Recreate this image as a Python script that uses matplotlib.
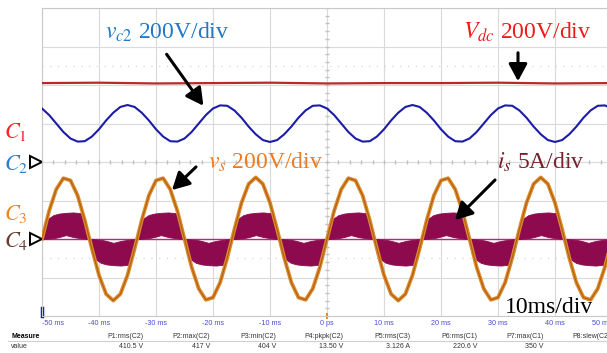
import matplotlib.pyplot as plt
from matplotlib.patches import FancyArrowPatch

W, H = 607, 353
plt.rcParams['mathtext.fontset'] = 'stix'

# time axis of the scope (ms)
time_ticks = [-50, -40, -30, -20, -10, 0, 10, 20, 30, 40, 50]
time_labels = ['-50 ms', '-40 ms', '-30 ms', '-20 ms', '-10 ms', '0 ps',
               '10 ms', '20 ms', '30 ms', '40 ms', '50 ms']

# traces every 1.25 ms, in screen divisions
t = [-50 + 1.25 * k for k in range(81)]

vs_div = [-2.00, -1.27, -0.71, -0.42, -0.48, -0.87, -1.51, -2.25, -2.94, -3.43,
          -3.60, -3.43, -2.94, -2.25, -1.51, -0.87, -0.48, -0.42, -0.71, -1.27,
          -2.00, -2.73, -3.29, -3.58, -3.52, -3.13, -2.49, -1.75, -1.06, -0.57,
          -0.40, -0.57, -1.06, -1.75, -2.49, -3.13, -3.52, -3.58, -3.29, -2.73,
          -2.00, -1.27, -0.71, -0.42, -0.48, -0.87, -1.51, -2.25, -2.94, -3.43,
          -3.60, -3.43, -2.94, -2.25, -1.51, -0.87, -0.48, -0.42, -0.71, -1.27,
          -2.00, -2.73, -3.29, -3.58, -3.52, -3.13, -2.49, -1.75, -1.06, -0.57,
          -0.40, -0.57, -1.06, -1.75, -2.49, -3.13, -3.52, -3.58, -3.29, -2.73,
          -2.00]

vc2_div = [1.39, 1.22, 1.00, 0.78, 0.61, 0.53, 0.54, 0.66, 0.85, 1.08,
           1.28, 1.43, 1.48, 1.43, 1.28, 1.08, 0.85, 0.66, 0.54, 0.53,
           0.61, 0.78, 1.00, 1.22, 1.39, 1.47, 1.46, 1.34, 1.15, 0.92,
           0.72, 0.57, 0.52, 0.57, 0.72, 0.92, 1.15, 1.34, 1.46, 1.47,
           1.39, 1.22, 1.00, 0.78, 0.61, 0.53, 0.54, 0.66, 0.85, 1.08,
           1.28, 1.43, 1.48, 1.43, 1.28, 1.08, 0.85, 0.66, 0.54, 0.53,
           0.61, 0.78, 1.00, 1.22, 1.39, 1.47, 1.46, 1.34, 1.15, 0.92,
           0.72, 0.57, 0.52, 0.57, 0.72, 0.92, 1.15, 1.34, 1.46, 1.47,
           1.39]

# dc link, read every 10 ms
vdc_t = [-50, -40, -30, -20, -10, 0, 10, 20, 30, 40, 50]
vdc_div = [2.05, 2.06, 2.04, 2.05, 2.06, 2.04, 2.05, 2.05, 2.06, 2.04, 2.05]

# grid current envelope over one half cycle (ms from zero crossing, div)
is_rel = [0.0, 0.4, 1.0, 2.0, 3.0, 4.2, 5.5, 6.8, 7.5, 8.0, 8.33]
is_top = [0.0, 0.38, 0.52, 0.62, 0.66, 0.68, 0.69, 0.67, 0.45, 0.20, 0.0]
is_bot = [0.0, 0.0, 0.01, 0.02, 0.05, 0.10, 0.05, 0.02, 0.01, 0.0, 0.0]
is_zero = [-50.0, -41.67, -33.33, -25.0, -16.67, -8.33,
           0.0, 8.33, 16.67, 25.0, 33.33, 41.67]
is_offset = -2.0

# measurement bar
meas_names = ['P1:rms(C2)', 'P2:max(C2)', 'P3:min(C2)', 'P4:pkpk(C2)',
              'P5:rms(C3)', 'P6:rms(C1)', 'P7:max(C1)', 'P8:slew(C2)']
meas_values = ['410.5 V', '417 V', '404 V', '13.50 V',
               '3.126 A', '220.6 V', '350 V', '']


def px(x, y):
    return x / W, 1 - y / H


def build_is():
    it, up, lo = [], [], []
    for n, t0 in enumerate(is_zero):
        for r, a, b in zip(is_rel, is_top, is_bot):
            it.append(t0 + r)
            if n % 2 == 0:
                up.append(is_offset + a)
                lo.append(is_offset + b)
            else:
                up.append(is_offset - b)
                lo.append(is_offset - a)
    return it, up, lo


fig = plt.figure(figsize=(W / 100, H / 100), dpi=100)
ax = fig.add_axes([42 / W, (H - 316) / H, 570 / W, 308 / H])
ax.set_xlim(-50, 50)
ax.set_ylim(-4, 4)

# scope graticule
ax.set_yticks(range(-4, 5))
ax.set_yticklabels([])
ax.grid(True, color='#dadada', lw=0.8)
for s in ax.spines.values():
    s.set_color('#c8c8c8')
for yy in (2.5, -2.5):
    ax.axhline(yy, color='#cfcfcf', lw=0.8, ls=(0, (1, 6)))
ax.plot([v / 5 for v in range(-250, 251, 10)], [0] * 51, '|', color='#c0c0c0', ms=2.5)
ax.plot([0] * 41, [v / 5 for v in range(-20, 21)], '_', color='#c0c0c0', ms=2.5)

ax.set_xticks(time_ticks, time_labels, color='#4b4bd8', fontsize=5.2, family='Liberation Sans')
ax.tick_params(length=0, pad=3)
labels = ax.get_xticklabels()
labels[0].set_ha('left')
labels[-1].set_ha('right')

# traces
ax.plot(vdc_t, vdc_div, color='#b82a2a', lw=1.6, zorder=3)
ax.plot(t, vc2_div, color='#1c1ca6', lw=1.5, zorder=3)
it, up, lo = build_is()
ax.axhline(is_offset, color='#c02478', lw=1.0, zorder=3)
ax.fill_between(it, up, lo, color='#8e0a4e', lw=0.6, edgecolor='#8e0a4e', zorder=3)
ax.plot(t, vs_div, color='#dc8a2c', lw=2.7, solid_joinstyle='round', zorder=4)
ax.plot(t, vs_div, color='#b0600f', lw=0.8, zorder=4)

# scope markers
ax.plot([0], [-4], '|', color='#f08a1a', ms=4, mew=1.5, clip_on=False)
ax.plot([-50, -50], [-3.8, -4], color='#1414c8', lw=2.5, clip_on=False)
ax.plot([-51.0, -51.0], [0, -2], '>', ms=9, mfc='white', mec='black', mew=1.4, clip_on=False)

serif = 'Liberation Serif'
fs = 17
fig.text(*px(105, 39), r'$v_{c2}$ 200V/div', color='#1f78c8', fontsize=fs, family=serif, va='baseline')
fig.text(*px(463, 39), r'$V_{dc}$ 200V/div', color='#f01a1a', fontsize=fs, family=serif, va='baseline')
fig.text(*px(208, 169), r'$v_s$ 200V/div', color='#f07a1e', fontsize=fs, family=serif, va='baseline')
fig.text(*px(497, 169), r'$i_s$ 5A/div', color='#7a1f2b', fontsize=fs, family=serif, va='baseline')
fig.text(*px(505, 313), '10ms/div', color='black', fontsize=fs, family=serif, va='baseline')

fig.text(*px(4, 138), r'$C_1$', color='#ff2020', fontsize=16, va='baseline')
fig.text(*px(4, 170), r'$C_2$', color='#2a7fd0', fontsize=16, va='baseline')
fig.text(*px(4, 220), r'$C_3$', color='#f58220', fontsize=16, va='baseline')
fig.text(*px(4, 247), r'$C_4$', color='#6b3a2e', fontsize=16, va='baseline')

arrows = [((165, 52), (205, 108)), ((518, 50), (518, 84)),
          ((198, 165), (170, 192)), ((497, 178), (453, 222))]
for tail, head in arrows:
    fig.add_artist(FancyArrowPatch(
        px(*tail), px(*head), transform=fig.transFigure,
        arrowstyle='-|>,head_length=0.65,head_width=0.35', mutation_scale=16,
        color='black', lw=2.2))

# measurement table
fig.text(*px(11, 337), 'Measure', fontsize=5, weight='bold', va='center', family='Liberation Sans')
fig.text(*px(11, 347), 'value', fontsize=5, color='#333333', va='center', family='Liberation Sans')
for i, (name, val) in enumerate(zip(meas_names, meas_values)):
    xr = 143 + 66.8 * i
    fig.text(*px(xr, 336), name, fontsize=5, color='#333333', ha='right', va='center', family='Liberation Sans')
    fig.text(*px(xr, 347), val, fontsize=5, color='#333333', ha='right', va='center', family='Liberation Sans')
fig.add_artist(plt.Line2D([8 / W, 1], [1 - 341 / H] * 2, color='#d0d0d0', lw=0.8))

fig.savefig('out.png', dpi=100)
